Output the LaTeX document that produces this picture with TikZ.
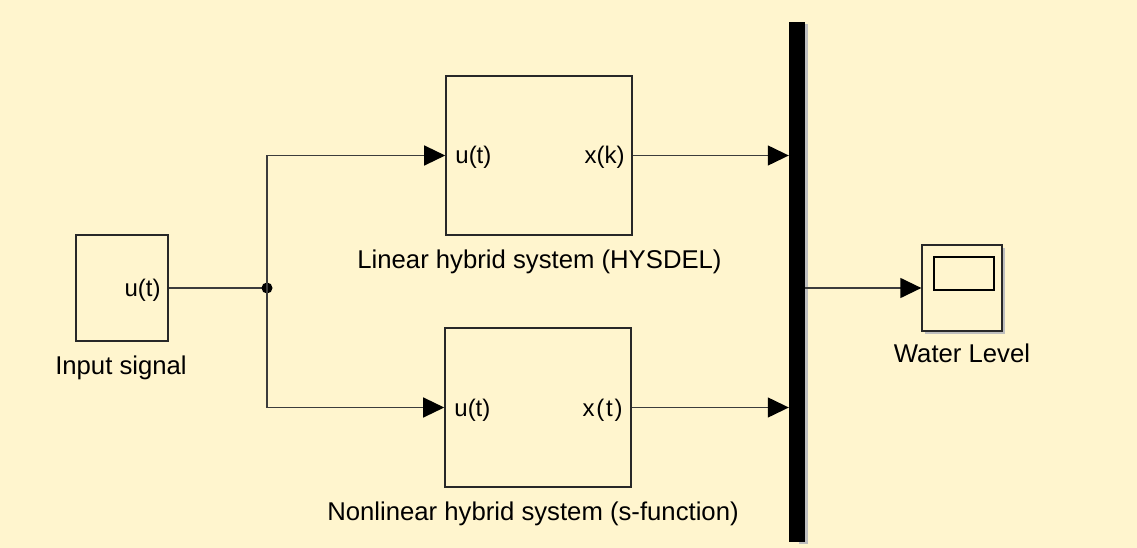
\documentclass[tikz,border=0pt]{standalone}
\usepackage{fontspec}
\setmainfont{Liberation Sans}
\usetikzlibrary{arrows.meta,calc}
\definecolor{bg}{RGB}{255,245,206}
\definecolor{wirec}{RGB}{60,60,60}
\definecolor{edgec}{RGB}{40,40,40}
\definecolor{shadowc}{RGB}{190,190,190}
\begin{document}
\begin{tikzpicture}[x=1pt,y=-1pt,
  blockbox/.style={draw=edgec,line width=1.6pt,rectangle,inner sep=0pt,fill=bg},
  wire/.style={draw=wirec,line width=1.3pt},
  arr/.style={wire,-{Triangle[length=21pt,width=20pt,color=black,fill=black]}},
  lbl/.style={font=\fontsize{25.7}{30}\selectfont,anchor=base,inner sep=0pt,text=black},
  port/.style={font=\fontsize{24}{28}\selectfont,inner sep=0pt,text=black}]
\fill[bg] (0,0) rectangle (1137,548);
\useasboundingbox (0,0) rectangle (1137,548);
% blocks
\node[blockbox,minimum width=92pt,minimum height=106pt] (inbox) at (122,288) {};
\node[blockbox,minimum width=186pt,minimum height=159pt] (top) at (539,155.5) {};
\node[blockbox,minimum width=186pt,minimum height=159pt] (bot) at (538,407.5) {};
% bar with shadow
\fill[shadowc] (799,24) rectangle (808,544);
\node[rectangle,fill=black,inner sep=0pt,minimum width=16pt,minimum height=520pt] (bar) at (797,282) {};
% scope with shadow
\fill[shadowc] (925,248) rectangle (1005,334);
\node[blockbox,line width=1.3pt,minimum width=80pt,minimum height=86pt] (scope) at (962,288) {};
\node[draw=black,line width=2.2pt,rectangle,inner sep=0pt,minimum width=60pt,minimum height=33pt] (screen) at (964,273.5) {};
% port labels
\node[port,anchor=base east] (inu) at ($(inbox.east)+(-8,8)$) {u(t)};
\node[port,anchor=base west] (topu) at ($(top.west)+(10,8.5)$) {u(t)};
\node[port,anchor=base east] (topx) at ($(top.east)+(-8,8.5)$) {x(k)};
\node[port,anchor=base west] (botu) at ($(bot.west)+(10,8.5)$) {u(t)};
\node[port,anchor=base east] (botx) at ($(bot.east)+(-9,8.5)$) {x\kern1.8pt(\kern1.8pt t\kern1.8pt)};
% block names
\node[lbl] (inname) at (121,374) {Input signal};
\node[lbl] (topname) at (539.5,268) {Linear hybrid system (HYSDEL)};
\node[lbl] (botname) at (533,520) {Nonlinear hybrid system (s-function)};
\node[lbl] (scname) at (962,362) {Water Level};
% junction
\coordinate (j) at (267,288);
\draw[wire] (inbox.east) -- (j);
\fill[black] (j) circle (5.5pt);
\draw[arr] (j) |- (top.west);
\draw[arr] (j) |- (bot.west);
\draw[arr] (top.east) -- (top.east -| bar.west);
\draw[arr] (bot.east) -- (bot.east -| bar.west);
\draw[arr] (bar.east |- scope.west) -- (scope.west);
\end{tikzpicture}
\end{document}
